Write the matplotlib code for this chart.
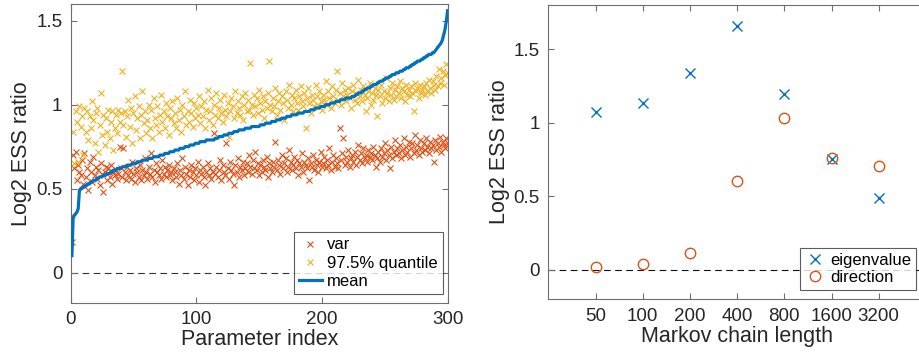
import numpy as np
import matplotlib
matplotlib.use("Agg")
import matplotlib.pyplot as plt

plt.rcParams['font.family'] = ['Liberation Sans', 'DejaVu Sans']

# ---------------- data: left panel ----------------
var_vals = [
    0.18, 0.70, 0.62, 0.72, 0.55, 0.64, 0.60, 0.58, 0.67, 0.53, 0.71, 0.57, 0.62, 0.49, 0.66, 0.60, 0.54, 0.69, 0.58, 0.63,
    0.56, 0.61, 0.52, 0.65, 0.59, 0.48, 0.60, 0.63, 0.55, 0.62, 0.57, 0.64, 0.53, 0.60, 0.58, 0.61, 0.56, 0.59, 0.75, 0.62,
    0.57, 0.74, 0.60, 0.55, 0.63, 0.58, 0.61, 0.56, 0.66, 0.59, 0.54, 0.62, 0.60, 0.57, 0.64, 0.55, 0.61, 0.58, 0.68, 0.60,
    0.56, 0.63, 0.59, 0.71, 0.57, 0.61, 0.54, 0.65, 0.60, 0.58, 0.62, 0.56, 0.67, 0.59, 0.63, 0.57, 0.61, 0.64, 0.58, 0.60,
    0.55, 0.62, 0.60, 0.57, 0.65, 0.53, 0.61, 0.58, 0.68, 0.56, 0.63, 0.59, 0.52, 0.61, 0.57, 0.64, 0.60, 0.55, 0.62, 0.58,
    0.66, 0.54, 0.61, 0.59, 0.63, 0.57, 0.52, 0.60, 0.65, 0.58, 0.62, 0.56, 0.60, 0.83, 0.59, 0.63, 0.57, 0.61, 0.67, 0.55,
    0.64, 0.60, 0.58, 0.77, 0.62, 0.56, 0.66, 0.61, 0.59, 0.52, 0.64, 0.60, 0.68, 0.57, 0.63, 0.61, 0.66, 0.58, 0.62, 0.65,
    0.60, 0.70, 0.63, 0.59, 0.67, 0.62, 0.72, 0.61, 0.65, 0.58, 0.64, 0.60, 0.67, 0.63, 0.61, 0.69, 0.57, 0.65, 0.62, 0.60,
    0.66, 0.63, 0.78, 0.61, 0.67, 0.64, 0.59, 0.70, 0.62, 0.65, 0.68, 0.60, 0.63, 0.73, 0.66, 0.61, 0.64, 0.69, 0.62, 0.67,
    0.58, 0.65, 0.63, 0.71, 0.60, 0.66, 0.64, 0.62, 0.68, 0.55, 0.65, 0.63, 0.70, 0.61, 0.67, 0.64, 0.60, 0.66, 0.72, 0.63,
    0.65, 0.69, 0.62, 0.67, 0.64, 0.74, 0.61, 0.66, 0.70, 0.63, 0.68, 0.65, 0.62, 0.86, 0.67, 0.71, 0.80, 0.64, 0.69, 0.66,
    0.73, 0.63, 0.68, 0.70, 0.66, 0.72, 0.64, 0.69, 0.76, 0.67, 0.71, 0.65, 0.74, 0.68, 0.70, 0.66, 0.73, 0.69, 0.71, 0.67,
    0.75, 0.70, 0.63, 0.68, 0.72, 0.66, 0.74, 0.69, 0.71, 0.77, 0.67, 0.73, 0.70, 0.62, 0.75, 0.68, 0.72, 0.79, 0.70, 0.74,
    0.71, 0.76, 0.68, 0.73, 0.80, 0.70, 0.75, 0.72, 0.78, 0.69, 0.74, 0.77, 0.71, 0.82, 0.73, 0.76, 0.70, 0.79, 0.74, 0.72,
    0.77, 0.73, 0.80, 0.75, 0.71, 0.78, 0.74, 0.76, 0.66, 0.79, 0.73, 0.77, 0.75, 0.81, 0.72, 0.78, 0.76, 0.74, 0.80, 0.77,
]

quantile_vals = [
    0.34, 0.84, 0.65, 0.96, 0.90, 0.66, 0.99, 0.87, 0.93, 0.70, 0.98, 0.84, 0.96, 0.79, 0.93, 0.86, 1.02, 0.91, 0.77, 0.95,
    0.98, 0.72, 0.88, 1.07, 0.82, 0.94, 0.76, 0.92, 0.84, 0.97, 0.80, 0.90, 0.96, 0.73, 0.86, 0.94, 0.83, 0.97, 0.90, 0.95,
    1.20, 0.88, 0.96, 0.81, 0.93, 1.03, 0.87, 0.98, 0.77, 0.95, 1.05, 0.85, 0.92, 0.99, 0.80, 0.94, 1.08, 0.89, 0.96, 0.83,
    0.91, 1.00, 0.86, 0.97, 0.80, 1.04, 0.92, 0.88, 0.99, 0.84, 0.94, 1.06, 0.90, 0.96, 0.86, 1.01, 0.93, 0.82, 0.98, 0.92,
    1.02, 0.89, 0.95, 0.86, 1.04, 0.91, 0.97, 0.84, 1.00, 0.93, 1.08, 0.88, 0.96, 0.90, 1.03, 0.95, 0.87, 1.01, 0.92, 0.98,
    0.94, 1.05, 0.89, 0.99, 0.93, 1.02, 0.86, 0.97, 1.09, 0.91, 0.96, 1.04, 0.88, 1.00, 0.94, 1.07, 0.92, 0.98, 1.03, 0.95,
    0.90, 1.06, 0.97, 0.93, 1.01, 0.81, 0.96, 1.04, 0.99, 0.92, 1.08, 0.95, 1.02, 0.98, 0.94, 1.05, 0.91, 1.00, 1.07, 0.96,
    1.03, 0.97, 1.25, 1.00, 0.94, 1.06, 0.99, 1.04, 0.95, 1.09, 1.01, 0.97, 1.05, 0.92, 1.02, 0.98, 1.07, 1.26, 1.00, 0.96,
    1.04, 0.99, 1.10, 0.94, 1.02, 1.07, 0.97, 1.05, 1.01, 0.91, 1.08, 1.03, 0.98, 1.12, 1.00, 1.06, 0.96, 1.04, 1.09, 1.01,
    0.97, 1.05, 1.11, 1.02, 0.99, 1.07, 0.86, 1.04, 1.10, 1.01, 0.95, 1.06, 1.03, 0.99, 1.12, 1.05, 1.00, 1.08, 1.02, 0.97,
    1.06, 1.03, 1.14, 1.00, 1.08, 1.04, 0.98, 1.11, 1.05, 1.01, 1.09, 1.20, 1.03, 1.07, 1.00, 1.13, 1.05, 1.09, 1.02, 1.06,
    1.10, 1.04, 0.98, 1.08, 1.12, 1.03, 1.07, 1.01, 1.15, 1.05, 1.09, 1.02, 1.11, 1.06, 0.96, 1.04, 1.08, 1.13, 1.00, 1.07,
    1.03, 1.10, 1.06, 0.93, 1.09, 1.05, 1.12, 1.01, 1.08, 1.04, 1.16, 1.07, 1.02, 1.10, 1.06, 1.13, 1.03, 1.09, 1.05, 1.11,
    1.07, 1.14, 1.04, 1.10, 1.08, 1.02, 1.12, 1.06, 1.09, 1.05, 1.11, 1.07, 0.96, 1.13, 1.08, 1.10, 1.04, 1.12, 1.07, 1.09,
    1.11, 1.06, 1.13, 1.08, 1.15, 1.10, 1.07, 1.14, 1.12, 1.09, 1.17, 1.11, 1.21, 1.13, 1.16, 1.20, 1.12, 1.18, 1.24, 1.19,
]

mean_vals = [
    0.10, 0.33, 0.34, 0.35, 0.36, 0.38, 0.49, 0.50, 0.50, 0.51,
    0.51, 0.52, 0.52, 0.53, 0.53, 0.54, 0.54, 0.55, 0.55, 0.55,
    0.56, 0.56, 0.57, 0.57, 0.57, 0.58, 0.58, 0.58, 0.59, 0.59,
    0.59, 0.60, 0.60, 0.61, 0.61, 0.61, 0.62, 0.62, 0.62, 0.62,
    0.63, 0.63, 0.63, 0.63, 0.64, 0.64, 0.64, 0.64, 0.65, 0.65,
    0.65, 0.65, 0.66, 0.66, 0.66, 0.66, 0.67, 0.67, 0.67, 0.67,
    0.67, 0.68, 0.68, 0.68, 0.68, 0.69, 0.69, 0.69, 0.69, 0.69,
    0.70, 0.70, 0.70, 0.70, 0.71, 0.71, 0.71, 0.71, 0.72, 0.72,
    0.72, 0.72, 0.73, 0.73, 0.73, 0.73, 0.74, 0.74, 0.74, 0.74,
    0.75, 0.75, 0.75, 0.75, 0.76, 0.76, 0.76, 0.76, 0.77, 0.77,
    0.77, 0.77, 0.78, 0.78, 0.78, 0.78, 0.78, 0.79, 0.79, 0.79,
    0.79, 0.79, 0.79, 0.79, 0.80, 0.80, 0.80, 0.81, 0.81, 0.81,
    0.81, 0.82, 0.82, 0.82, 0.82, 0.83, 0.83, 0.83, 0.83, 0.84,
    0.84, 0.84, 0.84, 0.85, 0.85, 0.85, 0.85, 0.85, 0.86, 0.86,
    0.86, 0.86, 0.86, 0.87, 0.87, 0.87, 0.87, 0.87, 0.87, 0.87,
    0.88, 0.88, 0.88, 0.88, 0.89, 0.89, 0.89, 0.89, 0.89, 0.90,
    0.90, 0.90, 0.90, 0.91, 0.91, 0.91, 0.91, 0.92, 0.92, 0.92,
    0.92, 0.93, 0.93, 0.93, 0.93, 0.94, 0.94, 0.94, 0.94, 0.94,
    0.95, 0.95, 0.95, 0.95, 0.95, 0.96, 0.96, 0.96, 0.96, 0.96,
    0.97, 0.97, 0.97, 0.97, 0.98, 0.98, 0.98, 0.98, 0.99, 0.99,
    0.99, 0.99, 1.00, 1.00, 1.00, 1.00, 1.01, 1.01, 1.01, 1.01,
    1.02, 1.02, 1.02, 1.02, 1.03, 1.03, 1.03, 1.03, 1.04, 1.04,
    1.04, 1.04, 1.04, 1.05, 1.05, 1.05, 1.06, 1.06, 1.07, 1.07,
    1.07, 1.08, 1.08, 1.09, 1.09, 1.10, 1.10, 1.10, 1.11, 1.11,
    1.12, 1.12, 1.12, 1.13, 1.13, 1.14, 1.14, 1.14, 1.15, 1.15,
    1.16, 1.16, 1.16, 1.17, 1.17, 1.18, 1.18, 1.18, 1.19, 1.19,
    1.19, 1.20, 1.20, 1.20, 1.21, 1.21, 1.22, 1.22, 1.22, 1.23,
    1.23, 1.24, 1.24, 1.25, 1.25, 1.26, 1.26, 1.26, 1.27, 1.27,
    1.28, 1.28, 1.29, 1.29, 1.30, 1.30, 1.30, 1.31, 1.31, 1.32,
    1.33, 1.34, 1.35, 1.36, 1.37, 1.39, 1.42, 1.45, 1.50, 1.56,
]

param_index = np.arange(1, len(mean_vals) + 1)

# ---------------- data: right panel ----------------
chain_lengths = ['50', '100', '200', '400', '800', '1600', '3200']
eigenvalue_vals = [1.07, 1.135, 1.337, 1.659, 1.194, 0.752, 0.489]
direction_vals = [0.018, 0.039, 0.118, 0.603, 1.031, 0.759, 0.709]

# ---------------- styling ----------------
BLUE = '#0072BD'
ORANGE = '#D95319'
YELLOW = '#EDB120'
AXC = '#262626'
TICK_FS = 13.5
LABEL_FS = 15.5
LEG_FS = 12

fig = plt.figure(figsize=(9.2, 3.62), dpi=100)

def style_axes(ax):
    for s in ax.spines.values():
        s.set_color('#6e6e6e')
        s.set_linewidth(0.8)
    ax.tick_params(direction='in', top=True, right=True, length=4, width=0.8,
                   color='#6e6e6e', labelsize=TICK_FS, labelcolor=AXC, pad=6)

# left axes
ax1 = fig.add_axes([0.0768, 0.1638, 0.4104, 0.825])
ax1.axhline(0, color='#333333', lw=0.8, dashes=(6, 4), zorder=1)
ax1.plot(param_index, var_vals, 'x', color=ORANGE, ms=4.5, mew=0.8, label='var', zorder=2)
ax1.plot(param_index, quantile_vals, 'x', color=YELLOW, ms=4.5, mew=0.8, label='97.5% quantile', zorder=2)
ax1.plot(param_index, mean_vals, '-', color=BLUE, lw=2.3, label='mean', zorder=3)
ax1.set_xlim(0, 300.5)
ax1.set_ylim(-0.18, 1.6)
ax1.set_xticks([0, 100, 200, 300])
ax1.set_yticks([0, 0.5, 1, 1.5])
ax1.set_yticklabels(['0', '0.5', '1', '1.5'])
ax1.set_xlabel('Parameter index', fontsize=LABEL_FS, color=AXC, labelpad=1)
ax1.set_ylabel('Log2 ESS ratio', fontsize=LABEL_FS, color=AXC, labelpad=3)
style_axes(ax1)
leg1 = ax1.legend(loc='lower right', bbox_to_anchor=(0.985, 0.029), fontsize=LEG_FS,
                  frameon=True, fancybox=False, edgecolor='#333333', borderaxespad=0,
                  handlelength=1.4, handletextpad=0.3, borderpad=0.3, labelspacing=0.2)
leg1.get_frame().set_linewidth(0.8)

# right axes
ax2 = fig.add_axes([0.596, 0.1732, 0.4105, 0.813])
xpos = np.arange(1, len(chain_lengths) + 1)
ax2.axhline(0, color='#111111', lw=0.8, dashes=(6, 4), zorder=1)
ax2.plot(xpos, eigenvalue_vals, 'x', color=BLUE, ms=6.5, mew=1.0, label='eigenvalue', zorder=2)
ax2.plot(xpos, direction_vals, 'o', color=ORANGE, mfc='none', ms=7.5, mew=1.0, label='direction', zorder=2)
ax2.set_xlim(0, 8)
ax2.set_ylim(-0.2, 1.8)
ax2.set_xticks(xpos)
ax2.set_xticklabels(chain_lengths)
ax2.set_yticks([0, 0.5, 1, 1.5])
ax2.set_yticklabels(['0', '0.5', '1', '1.5'])
ax2.set_xlabel('Markov chain length', fontsize=LABEL_FS, color=AXC, labelpad=1)
ax2.set_ylabel('Log2 ESS ratio', fontsize=LABEL_FS, color=AXC, labelpad=3)
style_axes(ax2)
leg2 = ax2.legend(loc='lower right', bbox_to_anchor=(0.9735, 0.0316), fontsize=LEG_FS,
                  frameon=True, fancybox=False, edgecolor='#333333', borderaxespad=0,
                  handlelength=1.2, handletextpad=0.3, borderpad=0.3, labelspacing=0.15)
leg2.get_frame().set_linewidth(0.8)

fig.savefig('out.png', dpi=100)
